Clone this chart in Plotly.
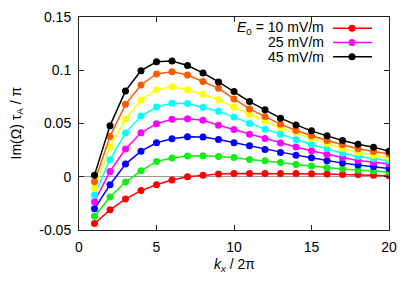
import plotly.graph_objects as go

kx = list(range(1, 21))
E0_labels = ["10", "15", "20", "25", "30", "35", "40", "45"]
colors = ["#ff0000", "#11ee11", "#0000ff", "#ff00ff", "#00ffff", "#ffff00", "#ff5a00", "#000000"]

im_10 = [-0.044, -0.031, -0.021, -0.013, -0.0075, -0.003, 0.0, 0.0015, 0.0025, 0.003,
         0.003, 0.003, 0.003, 0.003, 0.0028, 0.0025, 0.0022, 0.002, 0.0015, 0.001]
im_15 = [-0.037, -0.019, -0.005, 0.0056, 0.0144, 0.0175, 0.0195, 0.0198, 0.019, 0.018,
         0.0162, 0.015, 0.0134, 0.0115, 0.010, 0.0084, 0.0072, 0.0063, 0.0053, 0.0044]
im_20 = [-0.030, -0.0075, 0.0119, 0.024, 0.0319, 0.0356, 0.0375, 0.0373, 0.0350, 0.032,
         0.029, 0.0256, 0.0228, 0.0203, 0.0178, 0.015, 0.0128, 0.011, 0.0097, 0.0078]
im_25 = [-0.0234, 0.005, 0.026, 0.0413, 0.0498, 0.054, 0.0545, 0.053, 0.0484, 0.0443,
         0.040, 0.036, 0.0316, 0.028, 0.0244, 0.021, 0.018, 0.0153, 0.0134, 0.0122]
im_30 = [-0.0172, 0.016, 0.041, 0.057, 0.0655, 0.069, 0.0688, 0.0652, 0.0616, 0.056,
         0.050, 0.0447, 0.040, 0.035, 0.0303, 0.0262, 0.022, 0.019, 0.0169, 0.015]
im_35 = [-0.011, 0.028, 0.054, 0.072, 0.0818, 0.0845, 0.0818, 0.0775, 0.0725, 0.0653,
         0.0588, 0.0525, 0.046, 0.041, 0.036, 0.031, 0.0265, 0.0228, 0.020, 0.0178]
im_40 = [-0.0047, 0.0378, 0.068, 0.0862, 0.0965, 0.0985, 0.0955, 0.0895, 0.083, 0.0731,
         0.0637, 0.0565, 0.0494, 0.0434, 0.0384, 0.034, 0.030, 0.0262, 0.0237, 0.0213]
im_45 = [0.0015, 0.048, 0.0806, 0.0996, 0.108, 0.1087, 0.1045, 0.0975, 0.089, 0.080,
         0.0706, 0.0628, 0.055, 0.0487, 0.0431, 0.0384, 0.034, 0.0306, 0.0278, 0.024]
series = [im_10, im_15, im_20, im_25, im_30, im_35, im_40, im_45]

x_ticks = [0, 5, 10, 15, 20]
y_ticks = [-0.05, 0, 0.05, 0.1, 0.15]
y_ticktext = ["-0.05", "0", "0.05", "0.1", "0.15"]

FONT = "Liberation Sans, Arial, Helvetica, sans-serif"

fig = go.Figure()
for lab, col, ys in zip(E0_labels, colors, series):
    fig.add_trace(go.Scatter(
        x=kx, y=ys, mode="lines+markers", name=lab + " mV/m",
        line=dict(color=col, width=1.5),
        marker=dict(color=col, size=7, symbol="circle"),
        showlegend=False,
    ))

# page body has an 8px margin: figure coords = screen coords - 8
OFF = 8
W, H = 399, 275
ml, mt = 79 - OFF, 17 - OFF
mr = W - (389 - OFF)
mb = H - (230 - OFF)
pw, ph = W - ml - mr, H - mt - mb
def px(xs):
    return (xs - OFF - ml) / pw
def py(ys):
    return 1 - (ys - OFF - mt) / ph

# custom gnuplot-style legend (text left of key)
legend_items = [("<i>E</i><sub>0</sub> = 10 mV/m", colors[0]),
                ("25 mV/m", colors[3]),
                ("45 mV/m", colors[7])]
row_y = [28.3, 42.5, 56.7]
for (txt, col), yy in zip(legend_items, row_y):
    fig.add_annotation(xref="paper", yref="paper", x=px(325), y=py(yy),
                       text=txt, showarrow=False, xanchor="right", yanchor="middle",
                       borderpad=0,
                       font=dict(size=14, color="black", family=FONT))
    fig.add_shape(type="line", xref="paper", yref="paper",
                  x0=px(333), x1=px(372), y0=py(yy), y1=py(yy),
                  line=dict(color=col, width=1.5))
    fig.add_shape(type="circle", xref="paper", yref="paper",
                  x0=px(348.5), x1=px(355.5), y0=py(yy + 3.5), y1=py(yy - 3.5),
                  fillcolor=col, line=dict(color=col, width=0))

# axis titles
fig.add_annotation(xref="paper", yref="paper", x=px(234), y=py(265),
                   text="<i>k</i><sub><i>x</i></sub> / 2π", showarrow=False,
                   xanchor="center", yanchor="middle",
                   font=dict(size=14, color="black", family=FONT))
fig.add_annotation(xref="paper", yref="paper", x=px(16), y=py(123.5),
                   text="Im(Ω) τ<sub>A</sub> / π", showarrow=False, textangle=-90,
                   xanchor="center", yanchor="middle",
                   font=dict(size=14, color="black", family=FONT))

axis_common = dict(
    showline=True, linecolor="#222222", linewidth=1, mirror="ticks",
    ticks="inside", ticklen=5, tickcolor="#222222", showgrid=False,
    automargin=False,
    tickfont=dict(size=14, color="black", family=FONT),
)
fig.update_xaxes(range=[0, 20], tickvals=x_ticks, zeroline=False,
                 ticklabelstandoff=4, **axis_common)
fig.update_yaxes(range=[-0.05, 0.15], tickvals=y_ticks, ticktext=y_ticktext,
                 zeroline=True, zerolinecolor="#999999", zerolinewidth=1.2,
                 ticklabelstandoff=4, **axis_common)
fig.update_layout(
    width=W, height=H,
    margin=dict(l=ml, r=mr, t=mt, b=mb, autoexpand=False),
    plot_bgcolor="white", paper_bgcolor="white",
    font=dict(family=FONT, size=14, color="black"),
)
fig.write_html("out.html")
